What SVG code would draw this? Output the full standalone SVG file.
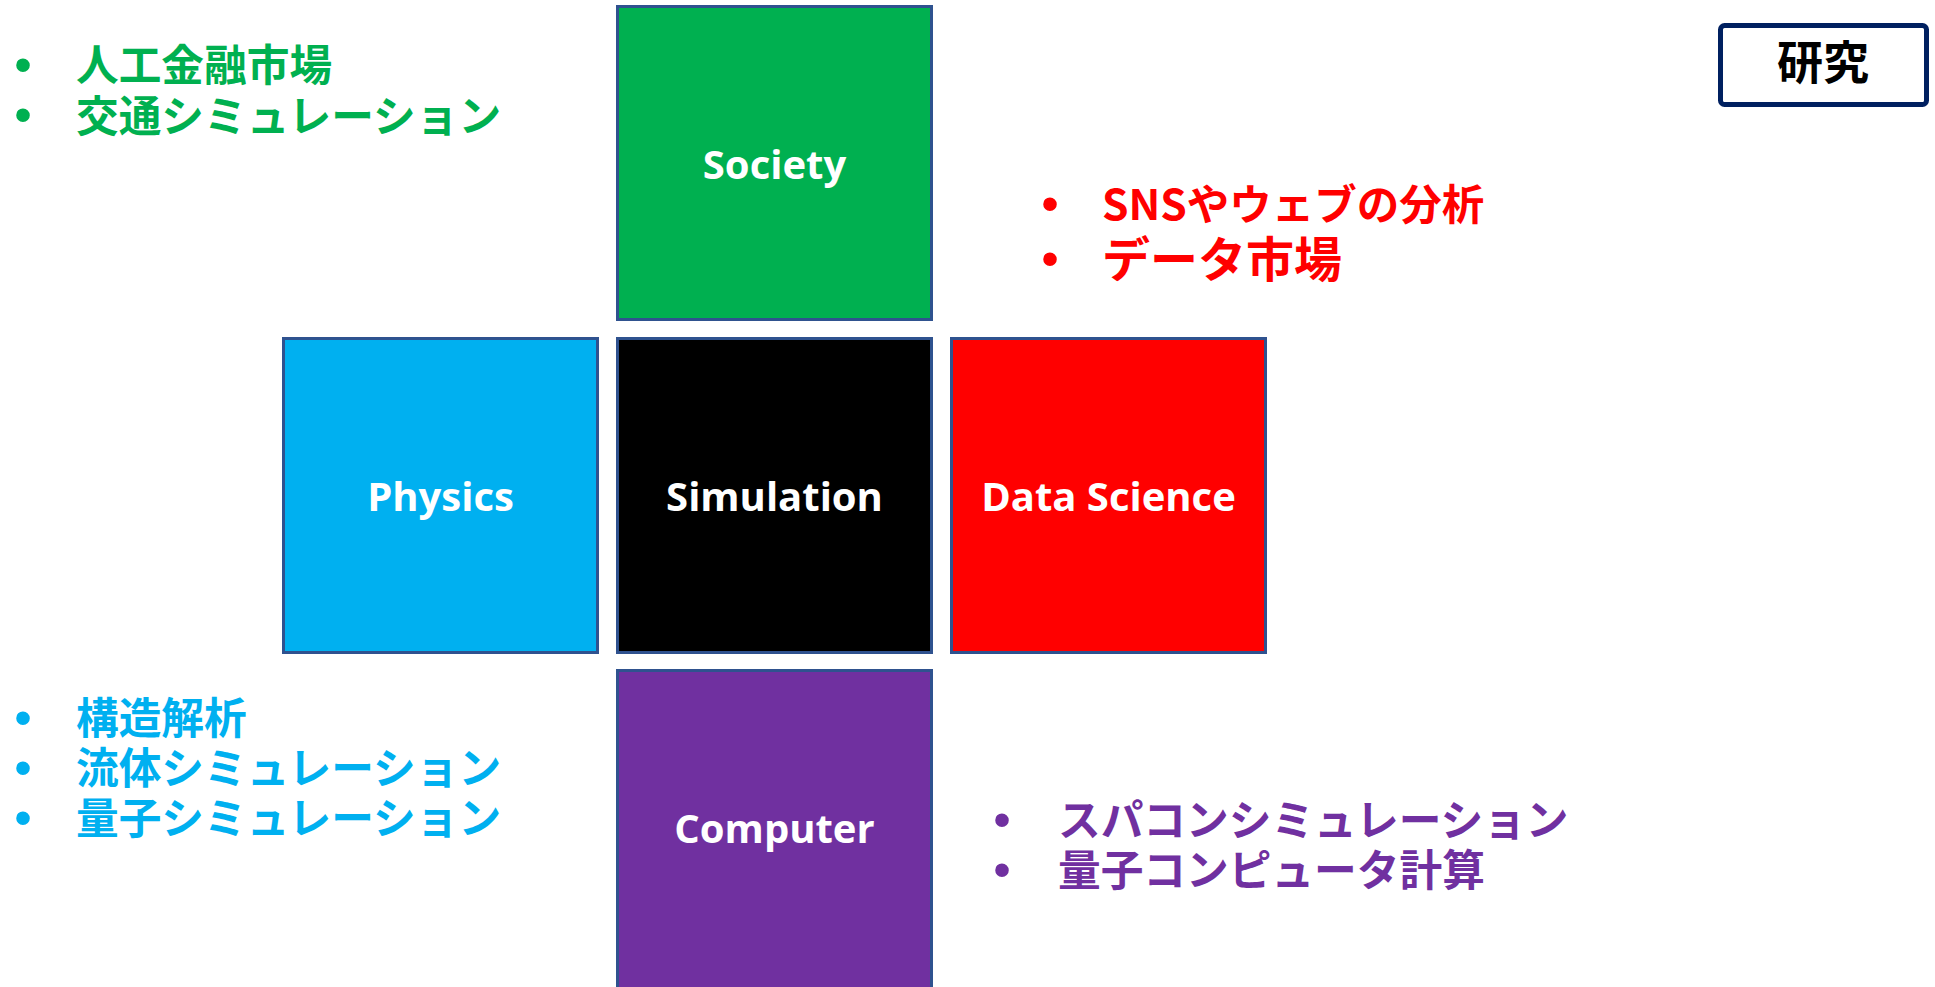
<svg xmlns="http://www.w3.org/2000/svg" width="1935" height="987" viewBox="0 0 1935 987">
<style>
.box{stroke:#2F528F;stroke-width:3}
.lbl{font-family:"Open Sans","Noto Sans",sans-serif;font-weight:700;font-size:40px;fill:#FFFFFF;text-anchor:middle}
.jp{font-family:"Noto Sans CJK JP","Noto Sans",sans-serif;font-weight:700;font-size:42.7px}
.bul{font-family:"Liberation Sans",Arial,sans-serif;font-size:50px;text-anchor:middle}
.g{fill:#00B050}.b{fill:#00B0F0}.r{fill:#FF0000}.p{fill:#7030A0}
</style>
<rect width="1935" height="987" fill="#FFFFFF"/>
<g id="connectors"></g>
<g id="society">
<rect class="box" x="617.5" y="6.5" width="314" height="313" fill="#00B050"/>
<text class="lbl" x="774.5" y="179">Society</text>
</g>
<g id="physics">
<rect class="box" x="283.5" y="338.5" width="314" height="314" fill="#00B0F0"/>
<text class="lbl" x="440.5" y="511">Physics</text>
</g>
<g id="simulation">
<rect class="box" x="617.5" y="338.5" width="314" height="314" fill="#000000"/>
<text class="lbl" x="774.5" y="511">Simulation</text>
</g>
<g id="datascience">
<rect class="box" x="951.5" y="338.5" width="314" height="314" fill="#FF0000"/>
<text class="lbl" x="1108.5" y="511">Data Science</text>
</g>
<g id="computer">
<rect class="box" x="617.5" y="670.5" width="314" height="318" fill="#7030A0"/>
<text class="lbl" x="774.5" y="843">Computer</text>
</g>
<g id="society-list">
<text class="bul g"><tspan x="23" y="82">•</tspan><tspan x="23" y="132">•</tspan></text>
<text class="jp g"><tspan x="76" y="81">人工金融市場</tspan><tspan x="76" y="131.5">交通シミュレーション</tspan></text>
</g>
<g id="datascience-list">
<text class="bul r"><tspan x="1050" y="221">•</tspan><tspan x="1050" y="276">•</tspan></text>
<text class="jp r"><tspan x="1102" y="220" style="font-size:42.5px">SNSやウェブの分析</tspan><tspan x="1102" y="277" style="font-size:48px">データ市場</tspan></text>
</g>
<g id="physics-list">
<text class="bul b"><tspan x="23" y="735">•</tspan><tspan x="23" y="785">•</tspan><tspan x="23" y="835">•</tspan></text>
<text class="jp b"><tspan x="76" y="734">構造解析</tspan><tspan x="76" y="784">流体シミュレーション</tspan><tspan x="76" y="834">量子シミュレーション</tspan></text>
</g>
<g id="computer-list">
<text class="bul p"><tspan x="1002" y="837">•</tspan><tspan x="1002" y="887">•</tspan></text>
<text class="jp p"><tspan x="1058" y="836">スパコンシミュレーション</tspan><tspan x="1058" y="886">量子コンピュータ計算</tspan></text>
</g>
<g id="kenkyu">
<rect x="1720.5" y="25.5" width="206" height="79" rx="4" fill="#FFFFFF" stroke="#002060" stroke-width="5"/>
<text x="1823" y="79" font-family="'Noto Sans CJK JP',sans-serif" font-weight="700" font-size="46" fill="#000000" text-anchor="middle">研究</text>
</g>
</svg>
